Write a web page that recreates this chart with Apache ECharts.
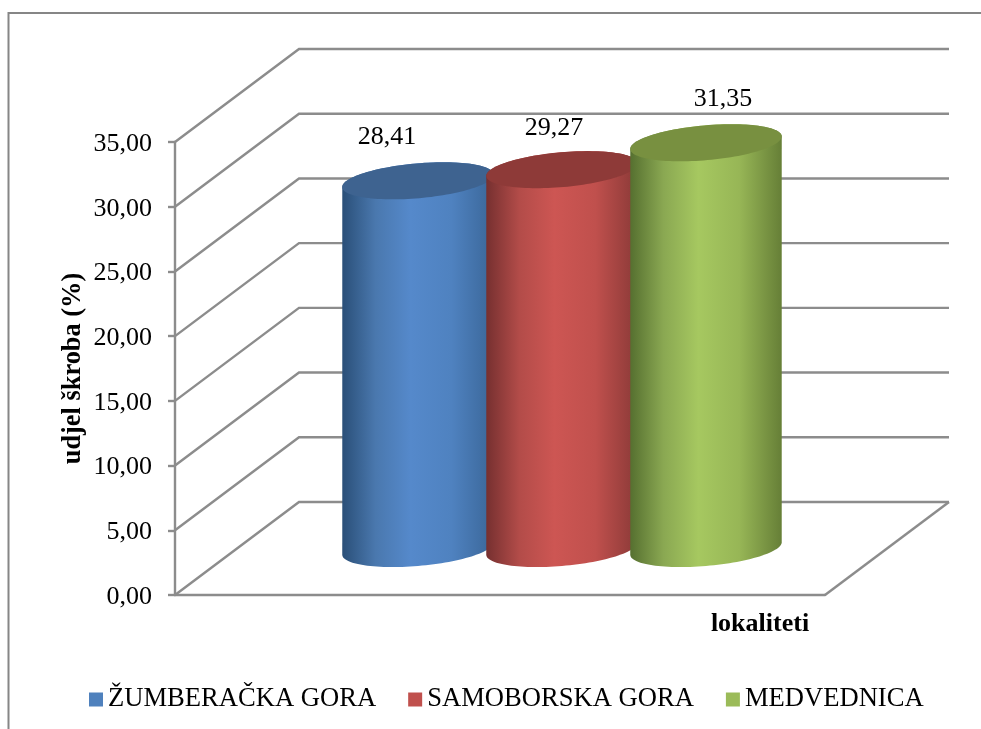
<!DOCTYPE html>
<html>
<head>
<meta charset="utf-8">
<style>html,body{margin:0;padding:0;background:#fff}#c{width:981px;height:729px}</style>
<script src="https://cdn.jsdelivr.net/npm/echarts@6/dist/echarts.min.js"></script>
</head>
<body>
<div id="c"></div>
<script>
const categories = ['ŽUMBERAČKA GORA', 'SAMOBORSKA GORA', 'MEDVEDNICA'];
const values = [28.41, 29.27, 31.35];
const yTicks = [0, 5, 10, 15, 20, 25, 30, 35];
const xAxisTitle = 'lokaliteti';
const yAxisTitle = 'udjel škroba (%)';

const FONT = '"Liberation Serif", "Times New Roman", serif';
const LINE = '#8c8c8c';
const DEPTH_X = 124, DEPTH_Y = -93;
const SLOT = 144, RX = 76, RY = 17.4, TILT = 5 * Math.PI / 180;
const labelShift = [[-31, -44], [-8, -41.5], [17, -43.5]];
const solid = ['#4f81bd', '#c0504d', '#9bbb59'];
const caps = ['#3e6390', '#8e3a38', '#789040'];
const bodyStops = [
  ['#2a4f78', '#4a78ae', '#5589cb', '#4f82c0', '#3a6698'],
  ['#763030', '#b34c49', '#cd5653', '#c0504d', '#8a3937'],
  ['#567030', '#8aa852', '#a6c860', '#97b656', '#667f37']
];

function ellipsePoints(cx, cy, from, to, n) {
  const pts = [];
  for (let i = 0; i <= n; i++) {
    const t = from + (to - from) * i / n;
    pts.push([
      cx + RX * Math.cos(t) * Math.cos(TILT) + RY * Math.sin(t) * Math.sin(TILT),
      cy - RX * Math.cos(t) * Math.sin(TILT) + RY * Math.sin(t) * Math.cos(TILT)
    ]);
  }
  return pts;
}

function renderWall(params, api) {
  const v = api.value(0);
  const p = api.coord([0, v]);
  const cs = params.coordSys;
  const x0 = cs.x, x1 = cs.x + cs.width;
  const style = { stroke: LINE, lineWidth: 2.4, fill: null };
  const children = [{
    type: 'polyline',
    shape: { points: [[x0, p[1]], [x0 + DEPTH_X, p[1] + DEPTH_Y], [x1 + DEPTH_X, p[1] + DEPTH_Y]] },
    style
  }];
  if (v === 0) {
    children.push({
      type: 'line',
      shape: { x1: x1, y1: p[1], x2: x1 + DEPTH_X, y2: p[1] + DEPTH_Y },
      style
    });
  }
  return { type: 'group', children };
}

function renderCylinder(params, api) {
  const i = params.seriesIndex - 1;
  const val = api.value(1);
  const base = api.coord([0, 0]);
  const top = api.coord([0, val]);
  const cx = base[0] + DEPTH_X / 2 + (i - 1) * SLOT;
  const baseY = base[1] + DEPTH_Y / 2;
  const topY = top[1] + DEPTH_Y / 2;
  const t0 = Math.atan2(RY * Math.sin(TILT), RX * Math.cos(TILT));
  const outline = ellipsePoints(cx, baseY, t0, t0 + Math.PI, 60)
    .concat(ellipsePoints(cx, topY, t0 + Math.PI, t0 + 2 * Math.PI, 60));
  const s = bodyStops[i];
  return {
    type: 'group',
    children: [
      {
        type: 'polygon',
        shape: { points: outline },
        style: {
          fill: {
            type: 'linear', x: 0, y: 0, x2: 1, y2: 0,
            colorStops: [
              { offset: 0, color: s[0] },
              { offset: 0.22, color: s[1] },
              { offset: 0.45, color: s[2] },
              { offset: 0.72, color: s[3] },
              { offset: 1, color: s[4] }
            ]
          }
        }
      },
      {
        type: 'polygon',
        shape: { points: ellipsePoints(cx, topY, 0, 2 * Math.PI, 120) },
        style: { fill: caps[i] }
      },
      {
        type: 'text',
        style: {
          x: cx + labelShift[i][0],
          y: topY + labelShift[i][1],
          text: val.toFixed(2).replace('.', ','),
          font: '26px ' + FONT,
          fill: '#000',
          align: 'center',
          verticalAlign: 'middle'
        }
      }
    ]
  };
}

const series = [{
  type: 'custom',
  name: 'wall',
  silent: true,
  renderItem: renderWall,
  encode: { y: 0 },
  data: yTicks.map(v => [v]),
  clip: false
}];
categories.forEach((name, i) => {
  series.push({
    type: 'custom',
    name,
    renderItem: renderCylinder,
    itemStyle: { color: solid[i] },
    encode: { x: 0, y: 1 },
    data: [[0, values[i]]],
    clip: false,
    z: 3 + i
  });
});

const chart = echarts.init(document.getElementById('c'), null, { renderer: 'canvas' });
chart.setOption({
  animation: false,
  backgroundColor: '#fff',
  grid: { left: 175, right: 156, top: 142, bottom: 134, containLabel: false },
  legend: {
    data: categories,
    left: 84,
    top: 681,
    icon: 'rect',
    itemWidth: 14,
    itemHeight: 14,
    itemGap: 32,
    textStyle: { fontFamily: FONT, fontSize: 26.6, color: '#000' }
  },
  xAxis: {
    type: 'category',
    data: [''],
    name: xAxisTitle,
    nameLocation: 'middle',
    nameGap: 16,
    nameTextStyle: { fontFamily: FONT, fontSize: 26, fontWeight: 'bold', color: '#000', padding: [0, 0, 0, 520], verticalAlign: 'top' },
    axisLine: { show: true, lineStyle: { color: LINE, width: 2.4 } },
    axisTick: { show: false },
    axisLabel: { show: false },
    splitLine: { show: false }
  },
  yAxis: {
    type: 'value',
    min: 0,
    max: 35,
    interval: 5,
    name: yAxisTitle,
    nameLocation: 'middle',
    nameRotate: 90,
    nameGap: 102,
    nameMoveOverlap: false,
    nameTextStyle: { fontFamily: FONT, fontSize: 26.4, fontWeight: 'bold', color: '#000', verticalAlign: 'middle' },
    axisLine: { show: true, lineStyle: { color: LINE, width: 2.4 } },
    axisTick: { show: true, length: 7, lineStyle: { color: LINE, width: 2.4 } },
    axisLabel: {
      margin: 23,
      verticalAlign: 'top',
      lineHeight: 4,
      fontFamily: FONT,
      fontSize: 26,
      color: '#000',
      formatter: v => v.toFixed(2).replace('.', ',')
    },
    splitLine: { show: false }
  },
  graphic: [{
    type: 'polyline',
    silent: true,
    shape: { points: [[8.5, 729], [8.5, 13], [981, 13]] },
    style: { stroke: '#868686', lineWidth: 2, fill: null }
  }],
  series
});
</script>
</body>
</html>
